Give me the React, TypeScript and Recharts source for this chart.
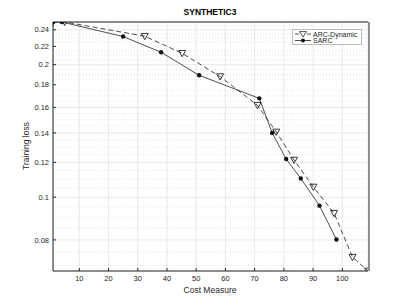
import { LineChart, Line, XAxis, YAxis, CartesianGrid, ReferenceLine } from 'recharts';

const costSarc = [1, 4, 25, 38, 51, 71.6, 76, 80.8, 85.8, 92.2, 98];
const lossSarc = [0.25, 0.25, 0.2317, 0.2134, 0.1892, 0.1677, 0.14, 0.1221, 0.1103, 0.0957, 0.0802];

const costArc = [1, 5, 32.4, 45.2, 58.2, 71, 77.4, 83.5, 90.1, 97.2, 103.5, 108.8];
const lossArc = [0.25, 0.25, 0.2321, 0.2123, 0.1879, 0.1617, 0.1407, 0.1215, 0.1055, 0.092, 0.0731, 0.068];

const xTicks = [10, 20, 30, 40, 50, 60, 70, 80, 90, 100];
const yTicks = [0.08, 0.1, 0.12, 0.14, 0.16, 0.18, 0.2, 0.22, 0.24];
const yMinor = [
  0.07, 0.075, 0.085, 0.09, 0.095, 0.105, 0.11, 0.115, 0.125, 0.13, 0.135, 0.145, 0.15, 0.155,
  0.165, 0.17, 0.175, 0.185, 0.19, 0.195, 0.205, 0.21, 0.215, 0.225, 0.23, 0.235, 0.245,
];

const sarcData = costSarc.map((c, i) => ({ cost: c, loss: lossSarc[i] }));
const arcData = costArc.map((c, i) => ({ cost: c, loss: lossArc[i] }));

const INK = '#262626';
const FONT = '"Liberation Sans", Arial, sans-serif';

const Triangle = (props: any) => {
  const { cx, cy } = props;
  if (cx == null || cy == null) return null;
  return (
    <path
      d={`M${cx - 3.5},${cy - 2.8}L${cx + 3.5},${cy - 2.8}L${cx},${cy + 3.5}Z`}
      fill="none"
      stroke="#222"
      strokeWidth={0.9}
    />
  );
};

const Dot = (props: any) => {
  const { cx, cy } = props;
  if (cx == null || cy == null) return null;
  return <circle cx={cx} cy={cy} r={2.2} fill="#111" />;
};

const LegendBox = () => (
  <div
    style={{
      position: 'absolute',
      left: 292,
      top: 29,
      width: 70,
      height: 16,
      border: '1px solid #bdbdbd',
      background: '#fff',
      boxSizing: 'border-box',
    }}
  >
    <svg width={68} height={14} style={{ display: 'block' }}>
      <line x1={2} x2={18} y1={4} y2={4} stroke="#222" strokeWidth={0.8} strokeDasharray="4 2" />
      <path d="M6.5,1.6L13.5,1.6L10,7Z" fill="#fff" stroke="#222" strokeWidth={0.8} />
      <text x={20} y={6.5} fontSize={7} fontFamily={FONT} fill={INK}>ARC-Dynamic</text>
      <line x1={2} x2={18} y1={10.5} y2={10.5} stroke="#222" strokeWidth={0.8} />
      <circle cx={10} cy={10.5} r={2} fill="#111" />
      <text x={20} y={13} fontSize={7} fontFamily={FONT} fill={INK}>SARC</text>
    </svg>
  </div>
);

export default function App() {
  return (
    <div style={{ position: 'absolute', left: 0, top: 0, width: 407, height: 305, background: '#fff' }}>
      <LineChart width={407} height={305} margin={{ top: 21, right: 37, bottom: 14, left: 7 }}>
        <CartesianGrid stroke="#e3e3e3" strokeWidth={0.8} />
        {yMinor.map((v) => (
          <ReferenceLine key={v} y={v} stroke="#d0d0d0" strokeWidth={0.6} strokeDasharray="1 2" />
        ))}
        <XAxis
          type="number"
          dataKey="cost"
          domain={[1, 108.8]}
          ticks={xTicks}
          allowDataOverflow
          height={20}
          tickSize={-3}
          tickMargin={8}
          stroke={INK}
          tick={{ fontSize: 7.5, fill: INK, fontFamily: FONT }}
        />
        <XAxis
          xAxisId="top"
          orientation="top"
          type="number"
          domain={[1, 108.8]}
          ticks={xTicks}
          allowDataOverflow
          height={1}
          tickSize={-3}
          tick={false}
          stroke={INK}
        />
        <YAxis
          type="number"
          dataKey="loss"
          scale="log"
          domain={[0.068, 0.25]}
          ticks={yTicks}
          allowDataOverflow
          width={45}
          tickSize={-3}
          tickMargin={7}
          stroke={INK}
          tick={{ fontSize: 7.5, fill: INK, fontFamily: FONT }}
        />
        <YAxis
          yAxisId="minorLeft"
          orientation="left"
          type="number"
          scale="log"
          domain={[0.068, 0.25]}
          ticks={yMinor}
          allowDataOverflow
          width={1}
          tickSize={-1.5}
          tick={false}
          axisLine={false}
          stroke={INK}
        />
        <YAxis
          yAxisId="right"
          orientation="right"
          type="number"
          scale="log"
          domain={[0.068, 0.25]}
          ticks={yTicks}
          allowDataOverflow
          width={1}
          tickSize={-3}
          tick={false}
          stroke={INK}
        />
        <YAxis
          yAxisId="minorRight"
          orientation="right"
          type="number"
          scale="log"
          domain={[0.068, 0.25]}
          ticks={yMinor}
          allowDataOverflow
          width={1}
          tickSize={-1.5}
          tick={false}
          axisLine={false}
          stroke={INK}
        />
        <Line
          data={arcData}
          dataKey="loss"
          name="ARC-Dynamic"
          stroke="#222"
          strokeWidth={0.8}
          strokeDasharray="5 3"
          dot={<Triangle />}
          isAnimationActive={false}
        />
        <Line
          data={sarcData}
          dataKey="loss"
          name="SARC"
          stroke="#222"
          strokeWidth={0.8}
          dot={<Dot />}
          isAnimationActive={false}
        />
        <text x={210} y={15} textAnchor="middle" fontFamily={FONT} fontSize={8.5} fontWeight="bold" fill="#000">
          SYNTHETIC3
        </text>
        <text x={210} y={293} textAnchor="middle" fontFamily={FONT} fontSize={8.5} fill={INK}>
          Cost Measure
        </text>
        <text
          x={29}
          y={146}
          textAnchor="middle"
          fontFamily={FONT}
          fontSize={8.5}
          fill={INK}
          transform="rotate(-90 29 146)"
        >
          Training loss
        </text>
      </LineChart>
      <LegendBox />
    </div>
  );
}
